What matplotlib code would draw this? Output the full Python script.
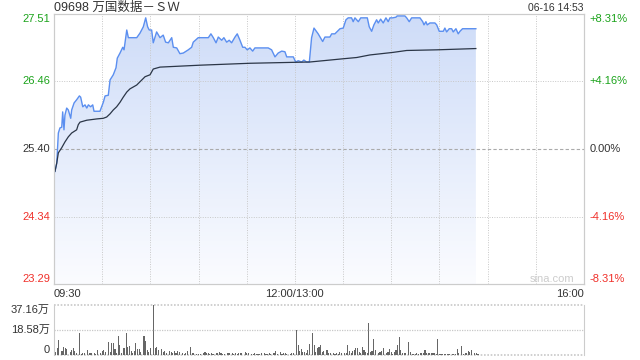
import numpy as np
import matplotlib.pyplot as plt
from matplotlib.colors import LinearSegmentedColormap

plt.rcParams['font.family'] = ['Liberation Sans', 'Noto Sans CJK SC', 'DejaVu Sans']

# minutes since 09:30 (12:00 and 13:00 share minute 150, 16:00 is 330)
price_min = [0.6, 1.7, 2.7, 3.7, 4.8, 5.4, 6.2, 6.8, 7.9, 8.9, 10.4, 11.0, 12.5, 14.1, 15.8,
             16.6, 17.9, 19.3, 20.4, 21.4, 22.8, 24.1, 24.9, 28.6, 30.7, 31.8, 33.8, 34.9,
             36.9, 38.6, 39.4, 41.1, 42.8, 43.6, 45.3, 46.3, 51.5, 53.5, 55.6, 57.1, 58.3,
             59.3, 60.8, 61.8, 62.9, 63.9, 66.0, 68.0, 69.5, 71.2, 73.3, 74.3, 76.4, 78.4,
             80.5, 83.6, 85.7, 86.7, 89.8, 96.1, 97.7, 99.2, 100.9, 102.3, 104.4, 105.8,
             107.5, 109.1, 110.6, 112.7, 114.1, 115.8, 117.5, 118.9, 120.3, 122.0, 123.7,
             125.1, 133.4, 135.5, 137.6, 139.6, 141.8, 143.8, 144.9, 149.0, 150.5, 152.1,
             154.2, 155.6, 157.3, 159.0, 160.4, 161.9, 164.5, 167.3, 168.7, 171.8, 172.9,
             174.9, 178.1, 180.1, 181.8, 183.2, 185.3, 186.3, 187.4, 189.5, 191.0, 195.1,
             196.3, 197.8, 199.2, 200.9, 201.9, 203.4, 205.0, 206.7, 208.1, 209.2, 210.9,
             212.9, 213.7, 218.5, 219.6, 221.2, 222.7, 227.9, 229.6, 230.4, 231.6, 232.4,
             234.1, 237.2, 238.3, 239.9, 242.4, 243.4, 244.5, 246.1, 247.6, 248.6, 250.3,
             251.7, 252.8, 254.4, 262.7]
price = [25.05, 25.18, 25.65, 25.73, 25.74, 25.98, 25.70, 25.93, 26.04, 26.01, 25.88, 26.01,
         26.12, 26.17, 26.23, 26.21, 26.06, 26.09, 26.04, 26.09, 26.06, 26.09, 25.99, 25.99,
         26.13, 26.23, 26.24, 26.48, 26.56, 26.67, 26.82, 26.90, 26.99, 26.95, 27.26, 27.14,
         27.14, 27.21, 27.31, 27.45, 27.31, 27.26, 27.26, 27.06, 27.15, 27.23, 27.14, 27.18,
         27.07, 27.06, 27.14, 26.99, 26.98, 26.89, 26.90, 26.95, 26.99, 27.07, 27.14, 27.14,
         27.20, 27.14, 27.06, 27.15, 27.10, 27.14, 27.07, 27.10, 27.06, 27.15, 27.20, 27.10,
         26.99, 26.99, 26.95, 26.98, 26.93, 26.98, 26.98, 26.95, 26.84, 26.90, 26.93, 26.92,
         26.84, 26.84, 26.76, 26.78, 26.76, 26.79, 26.76, 26.76, 27.14, 27.29, 27.20, 27.08,
         27.15, 27.15, 27.20, 27.20, 27.28, 27.29, 27.42, 27.45, 27.45, 27.39, 27.45, 27.39,
         27.45, 27.45, 27.31, 27.24, 27.34, 27.42, 27.37, 27.43, 27.37, 27.45, 27.39, 27.45,
         27.45, 27.46, 27.48, 27.48, 27.45, 27.39, 27.45, 27.45, 27.39, 27.34, 27.39, 27.34,
         27.37, 27.37, 27.34, 27.24, 27.24, 27.29, 27.23, 27.28, 27.28, 27.23, 27.28, 27.20,
         27.24, 27.28, 27.28]

avg_min = [0.6, 1.7, 2.7, 4.8, 6.8, 8.9, 11.0, 14.1, 15.1, 16.2, 20.4, 26.6, 30.7, 32.8,
           34.9, 36.9, 39.0, 41.1, 43.1, 45.3, 47.3, 49.4, 51.5, 53.5, 56.7, 59.8, 61.8,
           66.0, 90.9, 122.0, 159.4, 179.9, 188.5, 196.7, 211.1, 219.6, 238.3, 262.7]
avg_price = [25.05, 25.18, 25.34, 25.42, 25.51, 25.59, 25.65, 25.70, 25.78, 25.82, 25.85,
             25.87, 25.88, 25.90, 25.95, 26.01, 26.06, 26.13, 26.21, 26.29, 26.34, 26.37,
             26.40, 26.45, 26.53, 26.56, 26.65, 26.68, 26.71, 26.74, 26.76, 26.81, 26.83,
             26.87, 26.91, 26.94, 26.95, 26.97]

# volume, in 万 shares
vol_min = [1, 2, 3, 5, 6, 7, 8, 10, 11, 12, 13, 14, 16, 17, 18, 19, 21, 22, 23, 25, 26, 27,
           29, 30, 31, 32, 34, 35, 36, 37, 38, 39, 40, 41, 42, 43, 44, 45, 46, 47, 48, 49, 50,
           51, 52, 53, 54, 56, 57, 58, 59, 60, 62, 63, 64, 65, 67, 68, 69, 70, 72, 73, 74, 75,
           76, 77, 78, 80, 81, 82, 83, 85, 86, 87, 89, 90, 91, 93, 94, 95, 96, 97, 98, 99, 101,
           102, 103, 104, 105, 106, 108, 109, 111, 112, 113, 114, 115, 116, 117, 119, 120, 121,
           123, 124, 125, 126, 127, 128, 129, 131, 132, 133, 134, 135, 137, 138, 139, 141, 142,
           143, 144, 145, 147, 148, 149, 151, 152, 153, 154, 155, 156, 157, 158, 159, 161, 162,
           163, 164, 165, 166, 167, 168, 170, 171, 172, 174, 175, 176, 177, 178, 179, 181, 182,
           183, 184, 185, 186, 187, 188, 189, 190, 191, 192, 193, 194, 195, 196, 197, 198, 199,
           200, 202, 203, 204, 205, 207, 208, 209, 210, 211, 212, 213, 214, 215, 216, 217, 218,
           219, 221, 222, 223, 224, 225, 226, 227, 228, 229, 230, 231, 232, 233, 234, 235, 236,
           237, 238, 239, 240, 241, 242, 243, 244, 245, 246, 248, 249, 250, 251, 252, 254, 255,
           256, 257, 258, 259, 260, 262, 263, 264]
vol = [2.5, 5.4, 11.1, 3.2, 6.2, 5.0, 4.5, 2.0, 3.7, 5.4, 3.0, 1.7, 16.6, 0.7, 1.2, 1.7, 3.7,
       1.2, 1.7, 1.7, 0.7, 3.7, 1.2, 3.0, 3.7, 2.5, 9.4, 2.5, 9.2, 9.2, 4.2, 1.7, 14.1, 7.4,
       1.2, 5.0, 5.0, 16.6, 6.2, 7.0, 3.2, 1.7, 3.2, 9.2, 4.2, 4.5, 2.5, 14.1, 10.6, 3.7, 2.5,
       5.4, 37.16, 5.4, 6.2, 3.7, 4.5, 2.0, 3.2, 1.7, 3.0, 2.5, 1.2, 3.2, 1.7, 3.0, 2.0, 1.2,
       0.7, 1.2, 3.0, 6.2, 1.2, 1.2, 0.7, 0.7, 0.7, 1.7, 2.5, 1.2, 1.2, 0.5, 1.7, 0.7, 1.2,
       1.2, 2.5, 1.2, 0.5, 0.7, 1.7, 1.2, 1.2, 0.7, 1.2, 0.7, 1.2, 1.7, 1.2, 2.0, 1.2, 1.7,
       0.7, 0.7, 1.2, 0.5, 0.7, 0.5, 1.2, 1.7, 0.7, 0.7, 1.2, 0.7, 1.2, 3.0, 0.7, 2.0, 0.7,
       1.2, 1.7, 0.7, 0.7, 1.2, 1.2, 18.58, 7.4, 3.2, 4.5, 2.5, 2.0, 1.2, 3.7, 8.2, 16.6, 7.4,
       2.0, 5.4, 6.2, 7.4, 2.5, 3.2, 3.7, 1.2, 1.2, 1.7, 0.7, 1.2, 0.5, 2.0, 1.2, 1.2, 1.7,
       7.4, 3.2, 1.2, 3.2, 3.7, 5.0, 5.0, 2.0, 1.2, 6.2, 3.7, 2.0, 1.7, 24.0, 2.5, 3.2, 11.9,
       3.7, 1.2, 2.5, 3.2, 5.0, 1.2, 2.0, 4.2, 2.5, 0.7, 2.5, 3.7, 7.4, 13.1, 3.7, 1.7, 1.7,
       1.7, 9.9, 2.0, 0.7, 0.7, 0.7, 1.2, 0.7, 1.2, 1.7, 1.2, 3.7, 1.7, 1.7, 1.2, 1.7, 1.2,
       1.2, 0.7, 11.9, 0.7, 0.7, 0.7, 0.7, 0.7, 0.7, 0.7, 0.7, 0.7, 0.7, 4.5, 1.7, 6.7, 0.7,
       1.7, 1.7, 3.0, 2.0, 3.7, 1.2, 1.7, 0.5]

prev_close = 25.40
y_ticks = [23.29, 24.34, 25.40, 26.46, 27.51]
pct_labels = ['-8.31%', '-4.16%', '0.00%', '+4.16%', '+8.31%']
vol_ticks = [0, 18.58, 37.16]
vol_labels = ['0', '18.58万', '37.16万']

green = '#1ba31b'
red = '#f0302a'
tick_colors = [red, red, '#333333', green, green]
tick_va = ['bottom', 'center', 'center', 'center', 'top']

fig = plt.figure(figsize=(6.4, 3.6), dpi=100)
ax = fig.add_axes([0.0844, 0.2111, 0.828, 0.75])
axv = fig.add_axes([0.0844, 0.0139, 0.828, 0.139])

# gradient fill under the price line
grad = LinearSegmentedColormap.from_list('g', ['#fbfcff', '#cedcf8'])
img = ax.imshow(np.linspace(0, 1, 200).reshape(-1, 1), cmap=grad, origin='lower',
                extent=[0, 330, y_ticks[0], y_ticks[-1]], aspect='auto', zorder=1)
poly = ax.fill_between(price_min, price, y_ticks[0], color='none', lw=0)
img.set_clip_path(poly.get_paths()[0], transform=ax.transData)

ax.plot(price_min, price, color='#5b8ff0', lw=1.0, zorder=3)
ax.plot(avg_min, avg_price, color='#2b3647', lw=0.9, zorder=3)

ax.set_xlim(0, 330)
ax.set_ylim(y_ticks[0], y_ticks[-1])
for x in range(30, 330, 30):
    ax.axvline(x, color='#c8c8c8', lw=0.7, ls=(0, (1, 1.5)), zorder=2)
for y in [y_ticks[1], y_ticks[3]]:
    ax.axhline(y, color='#c8c8c8', lw=0.7, ls=(0, (1, 1.5)), zorder=2)
ax.axhline(prev_close, color='#aaaaaa', lw=0.8, ls=(0, (3, 2)), zorder=2)

ax.set_yticks(y_ticks)
ax.set_yticklabels(['%.2f' % v for v in y_ticks], fontsize=8)
for lab, c, va in zip(ax.get_yticklabels(), tick_colors, tick_va):
    lab.set_color(c)
    lab.set_verticalalignment(va)
ax.tick_params(axis='y', length=0, pad=3)
ax.set_xticks([])

axr = ax.twinx()
axr.set_ylim(ax.get_ylim())
axr.set_yticks(y_ticks)
axr.set_yticklabels(pct_labels, fontsize=8)
for lab, c, va in zip(axr.get_yticklabels(), tick_colors, tick_va):
    lab.set_color(c)
    lab.set_verticalalignment(va)
axr.tick_params(axis='y', length=0, pad=4)

for a in (ax, axr):
    for s in a.spines.values():
        s.set_color('#cccccc')
        s.set_linewidth(0.8)

ax.text(0, -0.02, '09:30', transform=ax.transAxes, ha='left', va='top', fontsize=8, color='#333333')
ax.text(150 / 330, -0.02, '12:00/13:00', transform=ax.transAxes, ha='center', va='top', fontsize=8, color='#333333')
ax.text(1, -0.02, '16:00', transform=ax.transAxes, ha='right', va='top', fontsize=8, color='#333333')
ax.text(0, 1.01, '09698 万国数据－ＳＷ', transform=ax.transAxes, ha='left', va='baseline', fontsize=9, color='#333333')
ax.text(1, 1.01, '06-16 14:53', transform=ax.transAxes, ha='right', va='baseline', fontsize=7.5, color='#333333')
ax.text(0.94, 0.02, 'sina.com', transform=ax.transAxes, ha='center', va='center', fontsize=8, color='#cccccc')

# volume panel
axv.bar(vol_min, vol, width=0.7, color='#666666', lw=0)
axv.set_xlim(0, 330)
axv.set_ylim(0, vol_ticks[-1])
axv.set_xticks([])
axv.set_yticks(vol_ticks)
axv.set_yticklabels(vol_labels, fontsize=8, color='#333333')
for lab, va in zip(axv.get_yticklabels(), ['bottom', 'center', 'top']):
    lab.set_verticalalignment(va)
axv.tick_params(axis='y', length=0, pad=3)
axv.axhline(vol_ticks[1], color='#c8c8c8', lw=0.9, ls=(0, (1, 1)))
for s in ['top', 'bottom']:
    axv.spines[s].set_visible(False)
axv.axhline(vol_ticks[2], color='#c8c8c8', lw=1.2, ls=(0, (1, 1)), clip_on=False)
axv.axhline(0, color='#c8c8c8', lw=1.2, ls=(0, (1, 1)), clip_on=False, zorder=0)
for s in ['left', 'right']:
    axv.spines[s].set_color('#cccccc')
    axv.spines[s].set_linewidth(0.8)

fig.savefig('out.png', dpi=100)
